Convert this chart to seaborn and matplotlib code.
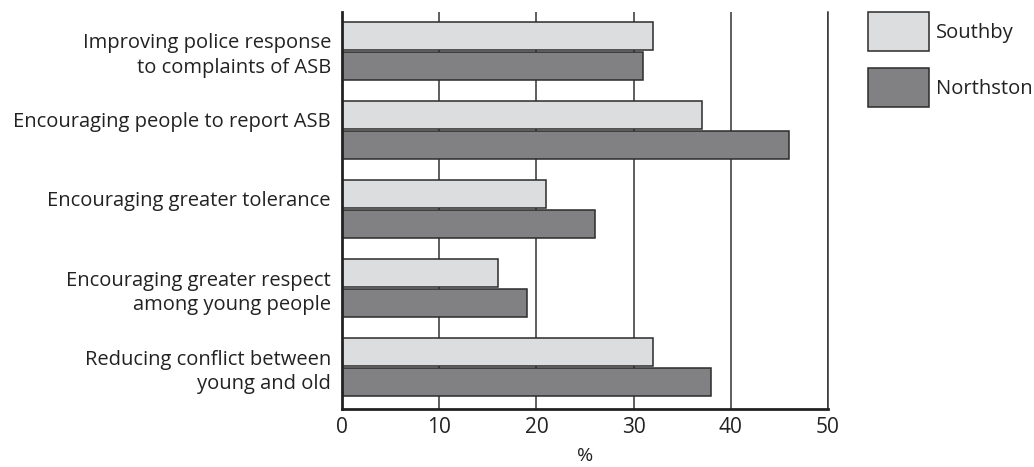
import matplotlib
matplotlib.use("Agg")
import matplotlib.pyplot as plt
import seaborn as sns
import pandas as pd

categories = [
    "Improving police response\nto complaints of ASB",
    "Encouraging people to report ASB",
    "Encouraging greater tolerance",
    "Encouraging greater respect\namong young people",
    "Reducing conflict between\nyoung and old",
]
series = ["Southby", "Northston"]
southby = [32, 37, 21, 16, 32]
northston = [31, 46, 26, 19, 38]
xticks = [0, 10, 20, 30, 40, 50]

df = pd.DataFrame({
    "category": categories * 2,
    "series": [series[0]] * 5 + [series[1]] * 5,
    "value": southby + northston,
})

sns.set_theme(style="white")
plt.rcParams["font.family"] = ["Open Sans", "DejaVu Sans"]

TXT = "#222222"
fig = plt.figure(figsize=(10.34, 4.67), dpi=100)
ax = fig.add_axes([0.3308, 0.1242, 0.47, 0.8501])

sns.barplot(data=df, y="category", x="value", hue="series", orient="h",
            palette=["#dcdddf", "#808184"], width=0.76, gap=0.07,
            edgecolor="#2b2b2b", linewidth=1.1, ax=ax, zorder=3)

ax.set_xlim(0, 50)
ax.set_ylim(4.53, -0.49)
ax.set_xticks(xticks)
ax.set_xticklabels([str(t) for t in xticks], fontsize=15, color=TXT)
ax.tick_params(axis="x", length=0, pad=6)

# single-line labels sit like the first line of a two-line label
ax.set_yticks(range(len(categories)))
ax.set_yticklabels([c if "\n" in c else c + "\n" for c in categories],
                   fontsize=14.5, color=TXT, linespacing=1.3)
ax.tick_params(axis="y", direction="in", length=9, width=2.3, color="#111111",
               pad=8)
ax.set_ylabel("")
ax.set_xlabel("%", fontsize=14, color=TXT, labelpad=6)

ax.grid(False)
for x in xticks[1:]:
    ax.axvline(x, color="#333333", linewidth=1.1, zorder=1)

ax.spines["top"].set_visible(False)
ax.spines["right"].set_visible(True)
ax.spines["right"].set_color("#333333")
ax.spines["right"].set_linewidth(1.1)
for s in ["left", "bottom"]:
    ax.spines[s].set_color("#222222")
    ax.spines[s].set_linewidth(2.0)
    ax.spines[s].set_zorder(4)

handles, labels = ax.get_legend_handles_labels()
leg = ax.legend(handles, labels, loc="upper left", bbox_to_anchor=(1.083, 1.0),
                frameon=False, fontsize=14.5, handlelength=3.0, handleheight=2.6,
                labelspacing=0.85, handletextpad=0.35, borderaxespad=0,
                borderpad=0)
for t in leg.get_texts():
    t.set_color(TXT)

fig.savefig("out.png", dpi=100)
